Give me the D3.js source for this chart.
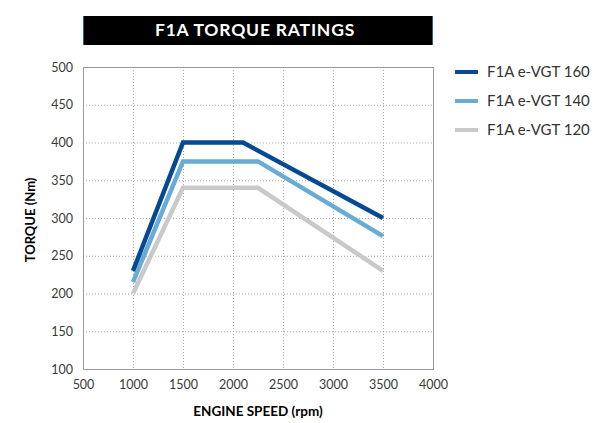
<!DOCTYPE html>
<html>
<head>
<meta charset="utf-8">
<script src="https://cdn.jsdelivr.net/npm/d3@7"></script>
<style>
    body { margin: 0; background: #fff; }
    svg { font-family: Lato, "Open Sans", sans-serif; }
</style>
</head>
<body>
<svg id="chart" width="598" height="423"></svg>
<script>
// chart data
var seriesNames = ['F1A e-VGT 160', 'F1A e-VGT 140', 'F1A e-VGT 120'];
var rpm160 = [1000, 1500, 2100, 3500],
    nm160 = [230, 400, 400, 300];
var rpm140 = [1000, 1500, 2250, 3500],
    nm140 = [215, 375, 375, 276];
var rpm120 = [1000, 1500, 2250, 3500],
    nm120 = [200, 340, 340, 230];
var xTicks = [500, 1000, 1500, 2000, 2500, 3000, 3500, 4000];
var yTicks = [100, 150, 200, 250, 300, 350, 400, 450, 500];

var colors = ['#034a93', '#68abd4', '#c9c9c9'];

var series = [
    { name: seriesNames[0], x: rpm160, y: nm160 },
    { name: seriesNames[1], x: rpm140, y: nm140 },
    { name: seriesNames[2], x: rpm120, y: nm120 }
];

var margin = { top: 67, left: 83 },
    width = 350,
    height = 302;

var svg = d3.select('#chart');

// title bar
svg.append('rect')
    .attr('x', 83).attr('y', 16)
    .attr('width', 350).attr('height', 29)
    .attr('fill', '#000');
svg.append('rect').attr('x', 83).attr('y', 16).attr('width', 1).attr('height', 29).attr('fill', '#1f5fa8');
svg.append('rect').attr('x', 432).attr('y', 16).attr('width', 1).attr('height', 29).attr('fill', '#1f5fa8');
svg.append('text')
    .attr('x', 255).attr('y', 36)
    .attr('text-anchor', 'middle')
    .attr('fill', '#fff')
    .style('font-size', '17.5px')
    .style('font-weight', 'bold')
    .style('letter-spacing', '0.8px')
    .text('F1A TORQUE RATINGS');

var x = d3.scaleLinear().domain([500, 4000]).range([0, width]);
var y = d3.scaleLinear().domain([100, 500]).range([height, 0]);

var chart = svg.append('g')
    .attr('transform', 'translate(' + margin.left + ',' + margin.top + ')');

// grid
chart.append('g')
    .selectAll('line')
    .data(yTicks.slice(1, -1))
    .enter().append('line')
    .attr('x1', 0).attr('x2', width)
    .attr('y1', d => y(d) + 0.5).attr('y2', d => y(d) + 0.5)
    .attr('stroke', '#a8a8a8')
    .attr('stroke-dasharray', '1,2');
chart.append('g')
    .selectAll('line')
    .data(xTicks.slice(1, -1))
    .enter().append('line')
    .attr('y1', 0).attr('y2', height)
    .attr('x1', d => x(d) + 0.5).attr('x2', d => x(d) + 0.5)
    .attr('stroke', '#a8a8a8')
    .attr('stroke-dasharray', '1,2');

chart.append('rect')
    .attr('x', 0.5).attr('y', 0.5)
    .attr('width', width).attr('height', height)
    .attr('fill', 'none')
    .attr('stroke', '#9a9a9a');

// axes
var xAxis = chart.append('g')
    .attr('transform', 'translate(0,' + height + ')')
    .call(d3.axisBottom(x).tickValues(xTicks).tickSize(0).tickPadding(11).tickFormat(d3.format('d')));
var yAxis = chart.append('g')
    .call(d3.axisLeft(y).tickValues(yTicks).tickSize(0).tickPadding(10).tickFormat(d3.format('d')));
[xAxis, yAxis].forEach(function(a) {
    a.select('.domain').remove();
    a.selectAll('text')
        .attr('fill', '#3a3a3a')
        .style('font-size', '12.5px')
        .style('font-family', 'Lato, sans-serif');
});

// lines
var line = d3.line()
    .x(d => x(d[0]))
    .y(d => y(d[1]));

// draw lightest first so the dark line is on top
chart.selectAll('.series')
    .data(series.slice().reverse())
    .enter().append('path')
    .attr('class', 'series')
    .attr('d', d => line(d.x.map((v, i) => [v, d.y[i]])))
    .attr('fill', 'none')
    .attr('stroke', d => colors[seriesNames.indexOf(d.name)])
    .attr('stroke-width', 4.5)
    .attr('stroke-linejoin', 'miter');

// axis labels
svg.append('text')
    .attr('x', 258).attr('y', 416)
    .attr('text-anchor', 'middle')
    .style('font-size', '13.5px')
    .style('font-weight', 'bold')
    .text('ENGINE SPEED (rpm)');
svg.append('text')
    .attr('transform', 'translate(35,220) rotate(-90)')
    .attr('text-anchor', 'middle')
    .style('font-size', '13px')
    .style('font-weight', 'bold')
    .text('TORQUE (Nm)');

// legend
var legend = svg.selectAll('.legend')
    .data(series)
    .enter().append('g')
    .attr('class', 'legend')
    .attr('transform', (d, i) => 'translate(455,' + (72 + i * 29) + ')');
legend.append('line')
    .attr('x1', 0).attr('x2', 23)
    .attr('stroke', (d, i) => colors[i])
    .attr('stroke-width', 4);
legend.append('text')
    .attr('x', 32).attr('dy', '0.35em')
    .attr('fill', '#333')
    .style('font-size', '15px')
    .text(d => d.name);
</script>
</body>
</html>
